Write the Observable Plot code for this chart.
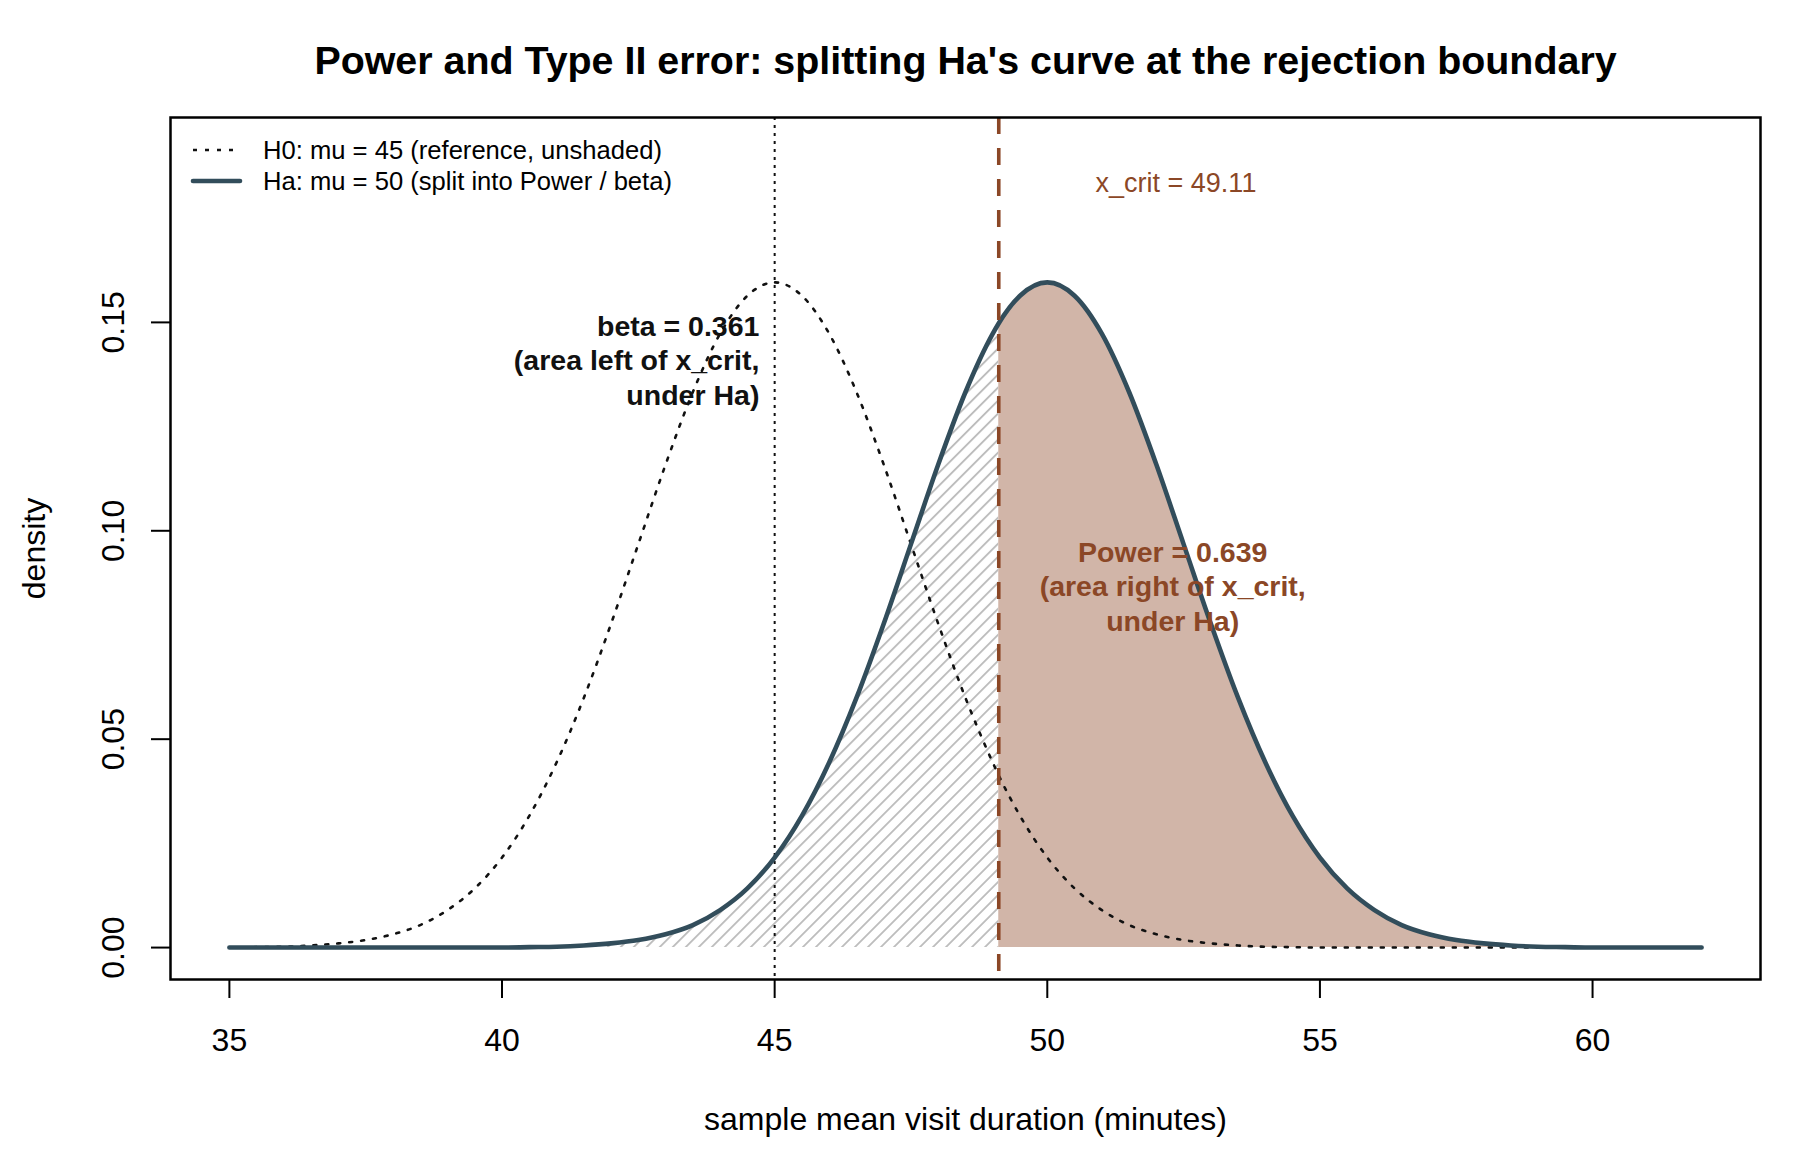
<!DOCTYPE html>
<html>
<head>
<meta charset="utf-8">
<script src="https://cdn.jsdelivr.net/npm/d3@7"></script>
<script src="https://cdn.jsdelivr.net/npm/@observablehq/plot@0.6"></script>
<style>
  html, body { margin: 0; padding: 0; background: #fff; }
  #chart { position: relative; width: 1800px; height: 1150px; }
</style>
</head>
<body>
<div id="chart"></div>
<script>
// ---- data ----
const xs = [35, 35.5, 36, 36.5, 37, 37.5, 38, 38.5, 39, 39.5, 40, 40.5, 41, 41.5, 42, 42.5, 43, 43.5, 44, 44.5,
            45, 45.5, 46, 46.5, 47, 47.5, 48, 48.5, 49, 49.11, 49.5, 50, 50.5, 51, 51.5, 52, 52.5, 53, 53.5, 54,
            54.5, 55, 55.5, 56, 56.5, 57, 57.5, 58, 58.5, 59, 59.5, 60, 60.5, 61, 61.5, 62];
// H0: mu = 45 density
const h0Density = [0.0000, 0.0001, 0.0002, 0.0005, 0.0010, 0.0018, 0.0032, 0.0054, 0.0090, 0.0142,
                   0.0216, 0.0316, 0.0444, 0.0599, 0.0777, 0.0968, 0.1159, 0.1333, 0.1473, 0.1564,
                   0.1596, 0.1564, 0.1473, 0.1333, 0.1159, 0.0968, 0.0777, 0.0599, 0.0444, 0.0413,
                   0.0316, 0.0216, 0.0142, 0.0090, 0.0054, 0.0032, 0.0018, 0.0010, 0.0005, 0.0002,
                   0.0001, 0, 0, 0, 0, 0, 0, 0, 0, 0, 0, 0, 0, 0, 0, 0];
// Ha: mu = 50 density
const haDensity = [0, 0, 0, 0, 0, 0, 0, 0, 0, 0,
                   0.0000, 0.0001, 0.0002, 0.0005, 0.0010, 0.0018, 0.0032, 0.0054, 0.0090, 0.0142,
                   0.0216, 0.0316, 0.0444, 0.0599, 0.0777, 0.0968, 0.1159, 0.1333, 0.1473, 0.1498,
                   0.1564, 0.1596, 0.1564, 0.1473, 0.1333, 0.1159, 0.0968, 0.0777, 0.0599, 0.0444,
                   0.0316, 0.0216, 0.0142, 0.0090, 0.0054, 0.0032, 0.0018, 0.0010, 0.0005, 0.0002,
                   0.0001, 0, 0, 0, 0, 0];
const xCrit = 49.11;
const h0Mean = 45;
const xTicks = [35, 40, 45, 50, 55, 60];
const yTicks = [0, 0.05, 0.10, 0.15];
const yTickLabels = ["0.00", "0.05", "0.10", "0.15"];
const titleText = "Power and Type II error: splitting Ha's curve at the rejection boundary";
const xLabel = "sample mean visit duration (minutes)";
const yLabel = "density";
const legendLabels = ["H0: mu = 45 (reference, unshaded)", "Ha: mu = 50 (split into Power / beta)"];
const annotations = [
  {x: 44.72, y: 0.1411, text: "beta = 0.361\n(area left of x_crit,\nunder Ha)", kind: "beta"},
  {x: 52.30, y: 0.0869, text: "Power = 0.639\n(area right of x_crit,\nunder Ha)", kind: "power"}
];
const critLabel = [{x: 52.36, y: 0.1833, text: "x_crit = 49.11"}];

// ---- build table ----
const rows = xs.map((x, i) => ({x, h0: h0Density[i], ha: haDensity[i]}));
const betaRows = rows.filter(d => d.x <= xCrit);
const powerRows = rows.filter(d => d.x >= xCrit);

const brown = "#8B4726";
const slate = "#324D5B";
const font = "'Liberation Sans', Arial, Helvetica, sans-serif";

const chart = Plot.plot({
  width: 1800,
  height: 1150,
  marginLeft: 170,
  marginRight: 40,
  marginTop: 117,
  marginBottom: 171,
  x: {domain: [33.92, 63.08]},
  y: {domain: [-0.00766, 0.19916]},
  style: {fontFamily: font, background: "white", color: "black"},
  marks: [
    Plot.areaY(betaRows, {x: "x", y: "ha", fill: "url(#hatch)", curve: "monotone-x"}),
    Plot.areaY(powerRows, {x: "x", y: "ha", fill: "#D1B5A8", curve: "monotone-x"}),
    Plot.line(rows, {x: "x", y: "h0", stroke: "#111", strokeWidth: 2.6, strokeDasharray: "3,9", curve: "monotone-x"}),
    Plot.ruleX([h0Mean], {stroke: "#111", strokeWidth: 2, strokeDasharray: "3,5"}),
    Plot.line(rows, {x: "x", y: "ha", stroke: slate, strokeWidth: 4.6, curve: "monotone-x", strokeLinecap: "round"}),
    Plot.ruleX([xCrit], {stroke: brown, strokeWidth: 3.6, strokeDasharray: "17,14"}),
    Plot.axisX(xTicks, {tickSize: 19, tickPadding: 30, fontSize: 32, strokeWidth: 2, tickFormat: d => String(d), label: null}),
    Plot.axisY(yTicks, {tickSize: 19, tickPadding: 28, fontSize: 32, strokeWidth: 2, tickRotate: -90,
      tickFormat: d => yTickLabels[yTicks.indexOf(d)], label: null}),
    Plot.frame({stroke: "black", strokeWidth: 2.5}),
    Plot.text(annotations.filter(d => d.kind === "beta"), {x: "x", y: "y", text: "text", textAnchor: "end",
      lineAnchor: "middle", lineHeight: 1.2, fontSize: 28.5, fontWeight: "bold", fill: "#111"}),
    Plot.text(annotations.filter(d => d.kind === "power"), {x: "x", y: "y", text: "text", textAnchor: "middle",
      lineAnchor: "middle", lineHeight: 1.2, fontSize: 28.5, fontWeight: "bold", fill: brown}),
    Plot.text(critLabel, {x: "x", y: "y", text: "text", textAnchor: "middle", lineAnchor: "middle",
      fontSize: 27, fill: brown}),
    Plot.text([titleText], {frameAnchor: "top", dy: -56, textAnchor: "middle", lineAnchor: "middle", fontSize: 39.4, fontWeight: "bold"}),
    Plot.text([xLabel], {frameAnchor: "bottom", dy: 140, textAnchor: "middle", lineAnchor: "middle", fontSize: 32}),
    Plot.text([yLabel], {frameAnchor: "left", dx: -136, rotate: -90, textAnchor: "middle", lineAnchor: "middle", fontSize: 32})
  ]
});

// hatch pattern definition
const svg = d3.select(chart);
const defs = svg.insert("defs", ":first-child");
const pat = defs.append("pattern").attr("id", "hatch").attr("patternUnits", "userSpaceOnUse")
  .attr("width", 9.2).attr("height", 9.2).attr("patternTransform", "rotate(45)");
pat.append("line").attr("x1", 4.6).attr("y1", 0).attr("x2", 4.6).attr("y2", 9.2)
  .attr("stroke", "#BDBDBD").attr("stroke-width", 1.9);

// legend (no box, top-left inside the plot)
const leg = svg.append("g").attr("font-family", font).attr("font-size", 25.6).attr("text-anchor", "start");
const legendStyles = [
  {stroke: "#111", width: 2.6, dash: "4,8", cap: "butt"},
  {stroke: slate, width: 4.6, dash: null, cap: "round"}
];
legendLabels.forEach((lab, i) => {
  const y = 150 + i * 31;
  const s = legendStyles[i];
  const ln = leg.append("line").attr("x1", 193).attr("x2", 240).attr("y1", y).attr("y2", y)
    .attr("stroke", s.stroke).attr("stroke-width", s.width).attr("stroke-linecap", s.cap);
  if (s.dash) ln.attr("stroke-dasharray", s.dash);
  leg.append("text").attr("x", 263).attr("y", y).attr("dy", "0.35em").attr("text-anchor", "start")
    .attr("fill", "black").text(lab);
});

document.getElementById("chart").appendChild(chart);
</script>
</body>
</html>
